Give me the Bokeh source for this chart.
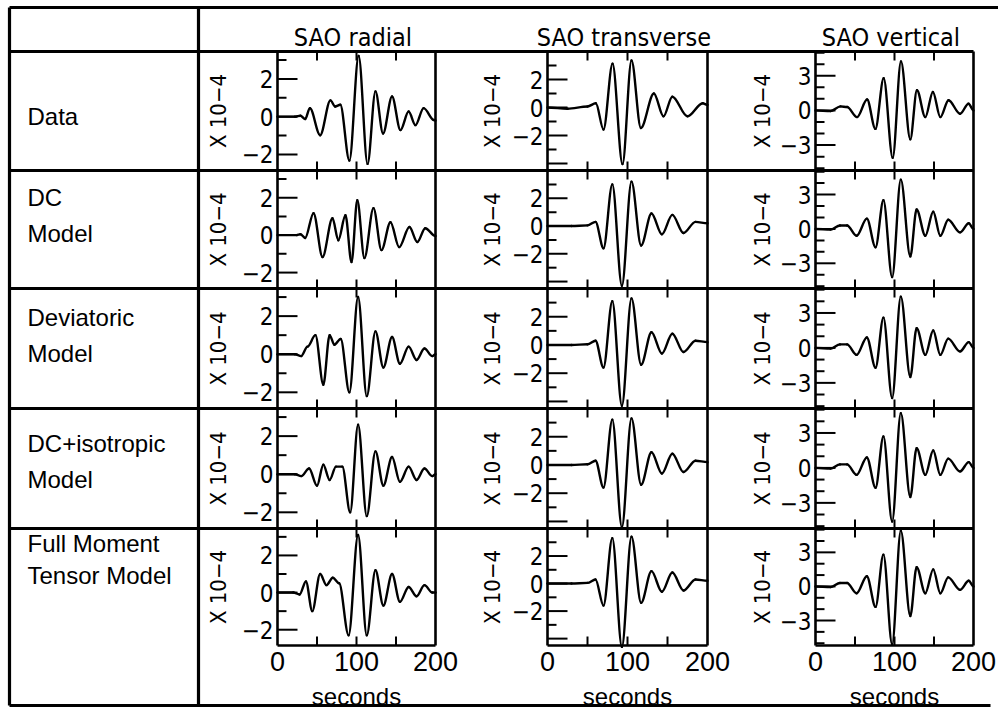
import math
from bokeh.plotting import figure
from bokeh.models import Range1d
from bokeh.embed import file_html
from bokeh.resources import INLINE
from bokeh.core.properties import value

# ---------------- data ----------------
row_labels = [["Data"], ["DC", "Model"], ["Deviatoric", "Model"],
              ["DC+isotropic", "Model"], ["Full Moment", "Tensor Model"]]
col_titles = ["SAO  radial", "SAO  transverse", "SAO  vertical"]
y_axis_label = "X 10−4"
x_label = "seconds"
x_tick_values = [0, 100, 200]
x_tick_labels = ["0", "100", "200"]
x_minor_ticks = [50, 100, 150]

radial_y_range = [-2.85, 3.45]
transverse_y_range = [-4.5, 4.0]
vertical_y_range = [-5.2, 5.1]

radial_major = [-2, 0, 2]
radial_minor = [-1, 1, 3]
radial_labels = ["−2", "0", "2"]
transverse_major = [-4, -2, 0, 2]
transverse_minor = [-3, -1, 1, 3]
transverse_labels = ["", "−2", "0", "2"]
vertical_major = [-3, 0, 3]
vertical_minor = [-5, -4, -2, -1, 1, 2, 4, 5]
vertical_labels = ["−3", "0", "3"]

# traces: turning points (seconds, units of 1e-4)
t_radial_data = [0, 22, 29, 35, 41, 54, 67, 73, 79.5, 91, 102.7, 114, 124, 133.6, 145, 155.6, 166, 174.6, 185, 198, 200]
v_radial_data = [0, 0, 0.05, -0.13, 0.45, -0.98, 0.86, 0.54, 0.63, -2.32, 3.21, -2.5, 1.34, -0.89, 1.07, -0.71, 0.27, -0.45, 0.45, -0.18, -0.2]
t_radial_dc = [0, 24, 29, 35, 45.6, 57, 69.6, 77, 86, 93.7, 101, 110, 121.5, 131.6, 143, 154, 167, 177, 187, 200]
v_radial_dc = [0, 0, 0.05, -0.15, 1.17, -1.17, 0.9, -0.27, 1.06, -1.44, 1.86, -1.22, 1.44, -0.8, 0.69, -0.64, 0.43, -0.37, 0.37, -0.05]
t_radial_dev = [0, 22, 30, 38, 48, 58, 66, 72, 80, 91, 102, 113, 124, 134, 145, 155, 166, 176, 186, 196, 200]
v_radial_dev = [0, 0, -0.1, 0.4, 1.0, -1.6, 1.0, 0.5, 0.8, -2.0, 3.0, -2.2, 1.2, -0.7, 0.9, -0.5, 0.4, -0.3, 0.3, -0.1, 0]
t_radial_iso = [0, 22, 30, 40, 50, 58, 66, 74, 82, 92, 102, 113, 124, 134, 145, 155, 166, 176, 186, 196, 200]
v_radial_iso = [0, 0, -0.1, 0.3, -0.6, 0.5, -0.3, 0.4, 0.4, -2.0, 2.6, -2.2, 1.2, -0.6, 0.9, -0.4, 0.4, -0.3, 0.3, -0.1, 0]
t_radial_full = [0, 20, 28, 36, 44, 54, 62, 70, 78, 90, 102, 113, 124, 134, 145, 155, 166, 176, 186, 196, 200]
v_radial_full = [0, 0, -0.1, 0.6, -1.0, 1.0, 0.4, 0.8, 0.5, -2.3, 3.1, -2.3, 1.2, -0.7, 1.0, -0.5, 0.3, -0.2, 0.4, 0, 0]

t_trans_data = [0, 25, 50, 60.4, 70, 81.3, 93.75, 105, 116.7, 133, 145, 156, 175, 194, 200]
v_trans_data = [0, -0.09, 0.07, 0.3, -1.57, 3.12, -4.04, 3.36, -1.46, 1.0, -0.63, 0.77, -0.63, 0.3, 0.19]
t_trans_dc = [0, 30, 50, 60, 70, 81, 93, 105, 117, 130, 143, 156, 170, 185, 200]
v_trans_dc = [0, 0, 0.05, 0.3, -1.6, 3.0, -4.3, 3.2, -1.4, 0.9, -0.6, 0.8, -0.5, 0.3, 0.2]
t_trans_dev = [0, 30, 50, 60, 70, 81, 93, 105, 117, 130, 143, 156, 170, 185, 200]
v_trans_dev = [0, 0, 0.05, 0.3, -1.6, 3.1, -4.3, 3.3, -1.4, 0.9, -0.6, 0.8, -0.5, 0.3, 0.2]
t_trans_iso = [0, 30, 50, 60, 70, 81, 93, 105, 117, 130, 143, 156, 170, 185, 200]
v_trans_iso = [0, 0, 0.05, 0.3, -1.6, 3.2, -4.4, 3.3, -1.4, 0.9, -0.6, 0.8, -0.5, 0.3, 0.2]
t_trans_full = [0, 30, 50, 60, 70, 81, 93, 105, 117, 130, 143, 156, 170, 185, 200]
v_trans_full = [0, 0, 0.05, 0.3, -1.6, 3.3, -4.6, 3.4, -1.4, 0.9, -0.6, 0.8, -0.5, 0.3, 0.2]

t_vert_data = [0, 19, 31.6, 40, 52.6, 65.3, 75.8, 86.3, 97.7, 108.2, 120, 128.4, 139, 148.6, 158, 168.4, 183, 193.7, 200]
v_vert_data = [0, -0.06, 0.35, 0.29, -0.58, 0.94, -1.6, 2.78, -4.1, 4.24, -2.49, 1.75, -0.58, 1.6, -0.58, 0.88, -0.29, 0.58, 0]
t_vert_dc = [0, 19, 31, 40, 52, 65, 76, 86, 97, 108, 120, 128, 139, 149, 158, 168, 183, 194, 200]
v_vert_dc = [0, -0.06, 0.3, 0.3, -0.6, 0.9, -1.6, 2.5, -4.2, 4.3, -2.4, 1.7, -0.6, 1.5, -0.6, 0.8, -0.3, 0.5, 0]
t_vert_dev = [0, 19, 31, 40, 52, 65, 76, 86, 97, 108, 120, 128, 139, 149, 158, 168, 183, 194, 200]
v_vert_dev = [0, -0.06, 0.3, 0.3, -0.6, 0.9, -1.7, 2.6, -4.3, 4.4, -2.5, 1.7, -0.6, 1.5, -0.6, 0.8, -0.3, 0.5, 0]
t_vert_iso = [0, 19, 31, 40, 52, 65, 76, 86, 97, 108, 120, 128, 139, 149, 158, 168, 183, 194, 200]
v_vert_iso = [0, -0.06, 0.3, 0.3, -0.6, 0.9, -1.7, 2.7, -4.6, 4.7, -2.5, 1.7, -0.6, 1.5, -0.6, 0.8, -0.3, 0.5, 0]
t_vert_full = [0, 19, 31, 40, 52, 65, 76, 86, 97, 108, 120, 128, 139, 149, 158, 168, 183, 194, 200]
v_vert_full = [0, -0.06, 0.3, 0.3, -0.6, 0.9, -1.8, 2.8, -5.1, 4.9, -2.6, 1.7, -0.6, 1.5, -0.6, 0.8, -0.3, 0.5, 0]

traces = [
    [(t_radial_data, v_radial_data), (t_trans_data, v_trans_data), (t_vert_data, v_vert_data)],
    [(t_radial_dc, v_radial_dc), (t_trans_dc, v_trans_dc), (t_vert_dc, v_vert_dc)],
    [(t_radial_dev, v_radial_dev), (t_trans_dev, v_trans_dev), (t_vert_dev, v_vert_dev)],
    [(t_radial_iso, v_radial_iso), (t_trans_iso, v_trans_iso), (t_vert_iso, v_vert_iso)],
    [(t_radial_full, v_radial_full), (t_trans_full, v_trans_full), (t_vert_full, v_vert_full)],
]
col_y_ranges = [radial_y_range, transverse_y_range, vertical_y_range]
col_major = [radial_major, transverse_major, vertical_major]
col_minor = [radial_minor, transverse_minor, vertical_minor]
col_labels = [radial_labels, transverse_labels, vertical_labels]

# ---------------- layout (page pixels) ----------------
NARROW = "DejaVu Sans Condensed, Liberation Sans"
SANS = "Liberation Sans"
TABLE_L, TABLE_T, TABLE_B, TABLE_R = 9, 7, 705, 998
BOTTOM_R = 990
COL_DIV = 198
ROW_LINES = [51, 170, 288, 408, 528]
PLOT_BOTTOM = 645
row_spans = [(51, 170), (170, 288), (288, 408), (408, 528), (528, 645)]
col_spans = [(277, 435), (547, 707), (815, 973)]
ylabel_x = [218, 492, 762]
title_y = 37
row_label_x = 27
row_label_y = [[116], [197, 233], [317, 353], [443, 479], [543, 575]]

p = figure(width=998, height=709, x_range=Range1d(0, 998), y_range=Range1d(709, 0),
           output_backend="svg", toolbar_location=None, min_border=0,
           x_axis_type=None, y_axis_type=None, outline_line_color=None)
p.grid.visible = False
p.background_fill_color = "white"

# table lines
hx0, hy0, hx1, hy1 = [], [], [], []
def seg(a, b, c, d):
    hx0.append(a); hy0.append(b); hx1.append(c); hy1.append(d)
seg(TABLE_L, TABLE_T, TABLE_R, TABLE_T)
seg(TABLE_L, TABLE_B, BOTTOM_R, TABLE_B)
seg(TABLE_L, TABLE_T, TABLE_L, TABLE_B)
seg(COL_DIV, TABLE_T, COL_DIV, TABLE_B)
for y in ROW_LINES:
    seg(TABLE_L, y, col_spans[-1][1], y)
p.segment(hx0, hy0, hx1, hy1, line_color="black", line_width=3.2)

fx0, fy0, fx1, fy1 = [], [], [], []
for (a, b) in col_spans:
    for x in (a, b):
        fx0.append(x); fy0.append(ROW_LINES[0]); fx1.append(x); fy1.append(PLOT_BOTTOM)
    fx0.append(a); fy0.append(PLOT_BOTTOM); fx1.append(b); fy1.append(PLOT_BOTTOM)
p.segment(fx0, fy0, fx1, fy1, line_color="black", line_width=2.6)

# column titles
p.text(x=[(a + b) / 2 for a, b in col_spans], y=[title_y] * 3, text=col_titles,
       text_align="center", text_baseline="alphabetic", text_font=value(NARROW),
       text_font_size="25px", text_color="black")

# row labels
rx, ry, rt = [], [], []
for lines, ys in zip(row_labels, row_label_y):
    for s, y in zip(lines, ys):
        rx.append(row_label_x); ry.append(y); rt.append(s)
p.text(x=rx, y=ry, text=rt, text_align="left", text_baseline="middle",
       text_font=value(SANS), text_font_size="24px", text_color="black")

# panels
for r, (top, bot) in enumerate(row_spans):
    for c, (x0, x1) in enumerate(col_spans):
        ymin, ymax = col_y_ranges[c]
        sub = p.subplot(x_source=Range1d(0, 200), y_source=Range1d(ymin, ymax),
                        x_target=Range1d(x0, x1), y_target=Range1d(bot, top))
        ppu = (bot - top) / (ymax - ymin)
        ppx = (x1 - x0) / 200.0
        t, v = traces[r][c]
        # smooth curve through the turning points (horizontal tangents at each point)
        sx0, sy0, sx1, sy1 = t[:-1], v[:-1], t[1:], v[1:]
        cx0 = [a + (b - a) / 3 for a, b in zip(sx0, sx1)]
        cx1 = [b - (b - a) / 3 for a, b in zip(sx0, sx1)]
        sub.bezier(x0=sx0, y0=sy0, x1=sx1, y1=sy1, cx0=cx0, cy0=sy0, cx1=cx1, cy1=sy1,
                   line_color="black", line_width=2.4, line_cap="round")
        d = 9 / ppu
        xt = x_minor_ticks
        sub.segment(x0=xt + xt, y0=[ymin] * len(xt) + [ymax] * len(xt),
                    x1=xt + xt, y1=[ymin + d] * len(xt) + [ymax - d] * len(xt),
                    line_color="black", line_width=2)
        maj = col_major[c]
        mnr = col_minor[c]
        sub.segment(x0=[0] * len(maj), y0=maj, x1=[20 / ppx] * len(maj), y1=maj,
                    line_color="black", line_width=2)
        sub.segment(x0=[0] * len(mnr), y0=mnr, x1=[9 / ppx] * len(mnr), y1=mnr,
                    line_color="black", line_width=2)
        labs = col_labels[c]
        lv = [m for m, s in zip(maj, labs) if s]
        ls = [s for s in labs if s]
        sub.text(x=[0] * len(lv), y=lv, text=ls, x_offset=-4, text_align="right",
                 text_baseline="middle", text_font=value(NARROW), text_font_size="24px",
                 text_color="black")
        if r == len(row_spans) - 1:
            sub.text(x=x_tick_values, y=[ymin] * 3, text=x_tick_labels, y_offset=6,
                     text_align="center", text_baseline="top", text_font=value(SANS),
                     text_font_size="27px", text_color="black")
            sub.text(x=[100], y=[ymin], text=[x_label], y_offset=51,
                     text_align="center", text_baseline="alphabetic", text_font=value(SANS),
                     text_font_size="24px", text_color="black")

# rotated y-axis labels
lx, ly = [], []
for (top, bot) in row_spans:
    for c in range(3):
        lx.append(ylabel_x[c]); ly.append((top + bot) / 2)
p.text(x=lx, y=ly, text=[y_axis_label] * len(lx), angle=math.pi / 2,
       text_align="center", text_baseline="middle", text_font=value(NARROW),
       text_font_size="22px", text_color="black")

open("out.html", "w").write(file_html(p, INLINE))
